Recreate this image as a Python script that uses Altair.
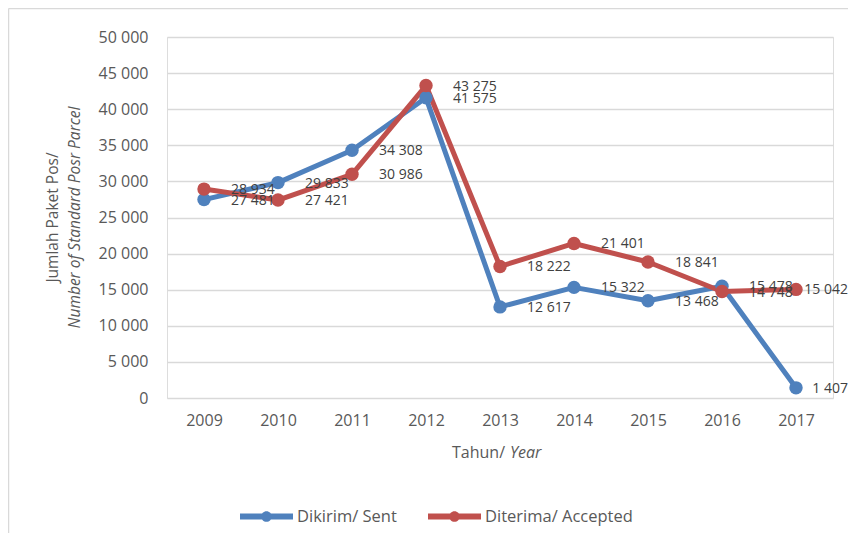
import altair as alt
import pandas as pd

years = ["2009", "2010", "2011", "2012", "2013", "2014", "2015", "2016", "2017"]
sent = [27481, 29833, 34308, 41575, 12617, 15322, 13468, 15478, 1407]
accepted = [28934, 27421, 30986, 43275, 18222, 21401, 18841, 14748, 15042]
series_names = ["Dikirim/ Sent", "Diterima/ Accepted"]
colors = ["#4F81BD", "#C0504D"]
y_ticks = [0, 5000, 10000, 15000, 20000, 25000, 30000, 35000, 40000, 45000, 50000]

rows = []
for name, vals in zip(series_names, [sent, accepted]):
    for yr, v in zip(years, vals):
        rows.append({"year": yr, "value": v, "series": name,
                     "label": f"{v:,}".replace(",", " ")})
df = pd.DataFrame(rows)

FONT = "Open Sans"
W, H = 666, 361
PAD_L, PAD_T, PAD_R, PAD_B = 159, 29, 15, 135

x = alt.X("year:N", scale=alt.Scale(type="point", padding=0.5),
          axis=alt.Axis(title=None, labelAngle=0, labelFont=FONT, labelFontSize=16,
                        labelColor="#595959", labelPadding=14, ticks=False,
                        domain=False, grid=False))
y = alt.Y("value:Q", scale=alt.Scale(domain=[0, 50000], nice=False),
          axis=alt.Axis(title=None, values=y_ticks,
                        labelExpr="replace(format(datum.value, ','), regexp(',', 'g'), ' ')",
                        labelFont=FONT, labelFontSize=16, labelColor="#595959",
                        labelPadding=19, ticks=False, domain=False,
                        grid=True, gridColor="#D9D9D9", gridWidth=1.5))

legend_path = ("M-1,-0.11H1V0.11H-1Z "
               "M0.2,0A0.2,0.2,0,1,1,-0.2,0A0.2,0.2,0,1,1,0.2,0Z")

color_scale = alt.Scale(domain=series_names, range=colors)
color_nolegend = alt.Color("series:N", sort=series_names, scale=color_scale, legend=None)
color_legend = alt.Color("series:N", sort=series_names, scale=color_scale,
                         legend=alt.Legend(title=None, orient="none", legendX=73, legendY=453,
                                           direction="horizontal", symbolType=legend_path,
                                           symbolSize=2809, symbolOpacity=1, symbolStrokeWidth=0,
                                           labelFont=FONT, labelFontSize=16.5, labelColor="#595959",
                                           labelOffset=4, columnPadding=31, padding=0))

base = alt.Chart(df)

lines = base.mark_line(strokeWidth=5, strokeJoin="round", strokeCap="round").encode(
    x=x, y=y, color=color_nolegend)
points = base.mark_point(filled=True, size=180, opacity=1).encode(
    x=x, y=y, color=color_legend)

labels = base.mark_text(align="left", baseline="middle", dx=27, dy=1, font=FONT,
                        fontSize=14, color="#404040").encode(
    x=x, y=y, text="label:N").transform_filter("datum.year != '2017'")
labels_last = base.mark_text(align="right", baseline="middle", dx=52, dy=1, font=FONT,
                             fontSize=14, color="#404040").encode(
    x=x, y=y, text="label:N").transform_filter("datum.year == '2017'")

one = alt.Data(values=[{"k": 1}])
ytitle1 = alt.Chart(one).mark_text(text="Jumlah Paket Pos/", angle=270, align="center",
                                   baseline="middle", font=FONT, fontSize=15.5,
                                   color="#595959").encode(x=alt.value(-114), y=alt.value(180.5))
ytitle2 = alt.Chart(one).mark_text(text="Number of Standard Posr Parcel", angle=270,
                                   align="center", baseline="middle", font=FONT, fontSize=15.5,
                                   fontStyle="italic", color="#595959").encode(
    x=alt.value(-92), y=alt.value(180.5))
xtitle1 = alt.Chart(one).mark_text(text="Tahun/", align="right", baseline="middle", font=FONT,
                                   fontSize=16, color="#595959").encode(
    x=alt.value(338), y=alt.value(416))
xtitle2 = alt.Chart(one).mark_text(text="Year", align="left", baseline="middle", font=FONT,
                                   fontSize=16, fontStyle="italic", color="#595959").encode(
    x=alt.value(343), y=alt.value(416))

border_top = alt.Chart(one).mark_rule(color="#D9D9D9", strokeWidth=1.5).encode(
    x=alt.value(-158.5), x2=alt.value(W + PAD_R), y=alt.value(-28.5))
border_left = alt.Chart(one).mark_rule(color="#D9D9D9", strokeWidth=1.5).encode(
    x=alt.value(-158.5), y=alt.value(-28.5), y2=alt.value(H + PAD_B))

chart = alt.layer(
    border_top, border_left, lines, points, labels, labels_last,
    ytitle1, ytitle2, xtitle1, xtitle2
).resolve_legend(color="independent").properties(
    width=W, height=H,
    autosize=alt.AutoSizeParams(type="none"),
    padding={"left": PAD_L, "top": PAD_T, "right": PAD_R, "bottom": PAD_B},
).configure_view(stroke=None).configure(background="white")

chart.save("out.html", embed_options={"renderer": "svg", "actions": False})
